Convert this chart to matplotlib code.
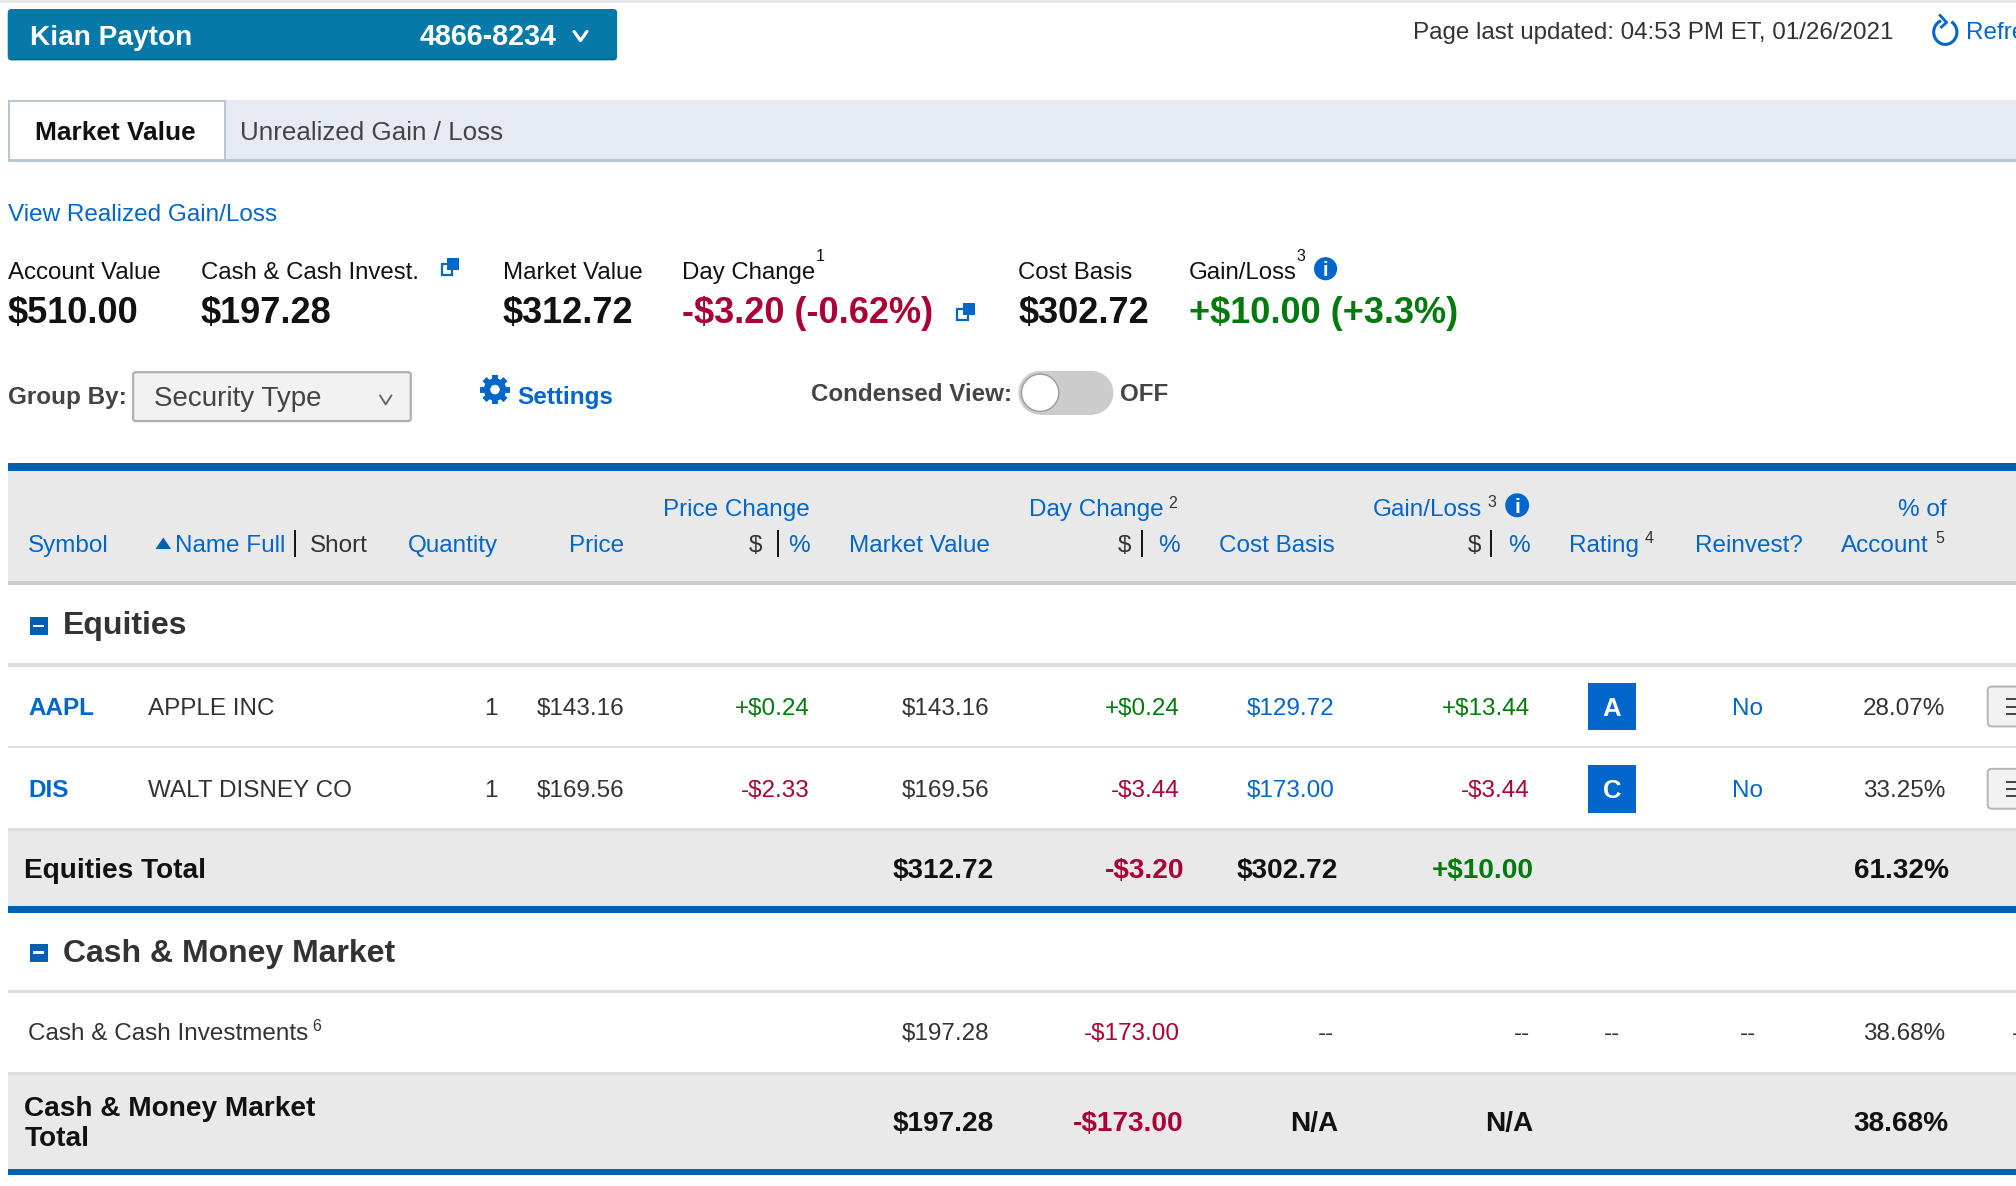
import math
import matplotlib
matplotlib.use("Agg")
import matplotlib.pyplot as plt
from matplotlib.patches import Rectangle, FancyBboxPatch, Circle, Arc, Polygon

plt.rcParams['font.family'] = ['Liberation Sans', 'DejaVu Sans']

# ---------- content ----------
account_name = "Kian Payton"
account_number = "4866-8234"
page_updated = "Page last updated: 04:53 PM ET, 01/26/2021"
tabs = ["Market Value", "Unrealized Gain / Loss"]
summary_labels = ["Account Value", "Cash & Cash Invest.", "Market Value", "Day Change", "Cost Basis", "Gain/Loss"]
summary_values = ["$510.00", "$197.28", "$312.72", "-$3.20 (-0.62%)", "$302.72", "+$10.00 (+3.3%)"]
symbols = ["AAPL", "DIS"]
names = ["APPLE INC", "WALT DISNEY CO"]
quantities = ["1", "1"]
prices = ["$143.16", "$169.56"]
price_changes = ["+$0.24", "-$2.33"]
market_values = ["$143.16", "$169.56"]
day_changes = ["+$0.24", "-$3.44"]
cost_bases = ["$129.72", "$173.00"]
gain_losses = ["+$13.44", "-$3.44"]
ratings = ["A", "C"]
reinvest = ["No", "No"]
pct_account = ["28.07%", "33.25%"]
equities_total = ["$312.72", "-$3.20", "$302.72", "+$10.00", "61.32%"]
cash_row = ["$197.28", "-$173.00", "--", "--", "--", "--", "38.68%"]
cash_total = ["$197.28", "-$173.00", "N/A", "N/A", "38.68%"]

# ---------- colours ----------
BLUE = "#0066CC"
BAR = "#0060B0"
GREEN = "#007A0C"
RED = "#AA0033"
DARK = "#333333"
BLACK = "#111111"
HEAD = "#E9E9E9"
LINE = "#DDDDDD"

W, H = 1568, 922.44
fig = plt.figure(figsize=(20.16, 11.86), dpi=100, facecolor="white")
ax = fig.add_axes([0, 0, 1, 1])
ax.set_xlim(0, W)
ax.set_ylim(H, 0)
ax.axis("off")

def fs(em):
    return em * 0.9257

def T(x, y, s, em=18.85, c=DARK, b=False, ha="left", **kw):
    if ha == "right":
        x = x + 0.8
    return ax.text(x, y, s, fontsize=fs(em), color=c, ha=ha, va="baseline",
                   fontweight="bold" if b else "normal", **kw)

def R(x0, y0, x1, y1, c, z=1, **kw):
    ax.add_patch(Rectangle((x0, y0), x1 - x0, y1 - y0, facecolor=c, edgecolor="none", zorder=z, **kw))

def chevron(x, y, w, h, c, lw):
    ax.plot([x - w, x, x + w], [y - h, y + h, y - h], color=c, lw=lw, solid_capstyle="round", zorder=5)

def info(x, y, r):
    ax.add_patch(Circle((x, y), r, facecolor=BLUE, edgecolor="none", zorder=4))
    ax.text(x, y + r * 0.62, "i", fontsize=fs(r * 1.75), color="white", ha="center", va="baseline",
            fontweight="bold", zorder=5)

def copy_icon(x, y):
    ax.add_patch(Rectangle((x - 6.5, y - 2.5), 8, 8, facecolor="white", edgecolor=BLUE, lw=1.6, zorder=3))
    R(x - 2, y - 7, x + 7, y + 2, BLUE, 4)

def minus_box(x0, y0):
    R(x0, y0, x0 + 14, y0 + 14, BAR, 3)
    R(x0 + 3, y0 + 6, x0 + 11, y0 + 8, "white", 4)

def VL(x, y0, y1, c="#111111", lw=1.4):
    ax.plot([x, x], [y0, y1], color=c, lw=lw, zorder=4, solid_capstyle="butt")

# ---------- top strip ----------
R(0, 0, W, 2, "#E6E6E6")
ax.add_patch(FancyBboxPatch((9, 10), 468, 34, boxstyle="round,pad=3,rounding_size=3",
                            facecolor="#0679A9", edgecolor="none", zorder=1))
R(8, 45, 478, 46.3, "#056A93", 2)
T(23, 35, account_name, 21.8, "white", True)
T(326, 35, account_number, 22.4, "white", True)
chevron(451.5, 28, 5, 3.5, "white", 2.3)
T(1099, 30, page_updated, 18.8)
ax.add_patch(Arc((1513, 25), 18, 19, angle=0, theta1=-60, theta2=250, color=BLUE, lw=2.2, zorder=4))
ax.plot([1509, 1514, 1510], [12, 17.5, 21], color=BLUE, lw=2, zorder=4)
T(1529, 30, "Refresh", 18.85, BLUE)

# ---------- tabs ----------
R(6, 78, W, 124, "#E6EAF2")
R(6, 124, W, 126, "#B4C8D8", 2)
ax.add_patch(Rectangle((7, 78.5), 168, 46, facecolor="white", edgecolor="#B4C8D8", lw=1.4, zorder=3))
T(27, 109, tabs[0], 20.4, BLACK, True, zorder=5)
T(187, 109, tabs[1], 20.2, "#444444")

T(6, 172, "View Realized Gain/Loss", 18.85, BLUE)

# ---------- summary ----------
sum_x = [6, 156, 391, 530.5, 792, 924.5]
val_col = [BLACK, BLACK, BLACK, RED, BLACK, GREEN]
for x, lab, val, c in zip(sum_x, summary_labels, summary_values, val_col):
    T(x, 217, lab, 18.7, BLACK)
    T(x, 251, val, 28.15, c, True)
T(634.5, 203, "1", 12.5, BLACK)
T(1008, 203, "3", 12.5, BLACK)
copy_icon(350, 208)
copy_icon(751, 243)
info(1031, 209, 9)

# ---------- controls ----------
T(6, 314, "Group By:", 18.85, "#444444", True)
ax.add_patch(FancyBboxPatch((104, 290), 215, 37, boxstyle="round,pad=0.5,rounding_size=2",
                            facecolor="#F2F2F2", edgecolor="#AFAFAF", lw=1.6, zorder=1))
T(120, 316, "Security Type", 21.6, "#444444")
chevron(300, 311, 4.5, 3.5, "#666666", 1.4)
# gear
gx, gy = 385, 303
for k in range(8):
    a = k * math.pi / 4
    ax.plot([gx + 6 * math.cos(a), gx + 11.5 * math.cos(a)], [gy + 6 * math.sin(a), gy + 11.5 * math.sin(a)],
            color=BLUE, lw=4.2, solid_capstyle="butt", zorder=3)
ax.add_patch(Circle((gx, gy), 8.7, facecolor=BLUE, edgecolor="none", zorder=4))
ax.add_patch(Circle((gx, gy), 3.7, facecolor="white", edgecolor="none", zorder=5))
T(402, 314, "Settings", 18.85, BLUE, True)
T(631, 312, "Condensed View:", 18.75, "#444444", True)
ax.add_patch(Rectangle((809, 288.5), 40, 34, facecolor="#CCCCCC", edgecolor="none", zorder=1))
ax.add_patch(Circle((809, 305.5), 17, facecolor="#CCCCCC", edgecolor="none", zorder=1))
ax.add_patch(Circle((849, 305.5), 17, facecolor="#CCCCCC", edgecolor="none", zorder=1))
ax.add_patch(Circle((809, 305.5), 14.5, facecolor="white", edgecolor="#9A9A9A", lw=1, zorder=2))
T(871, 312, "OFF", 18.75, "#444444", True)

# ---------- table frame ----------
R(6, 360, W, 366, BAR, 2)
R(6, 366, W, 452, HEAD)
R(6, 452, W, 455, "#CCCCCC")
R(6, 516, W, 519, LINE)
R(6, 580.5, W, 582, LINE)
R(6, 644, W, 646, LINE)
R(6, 646, W, 705, HEAD)
R(6, 705, W, 710, BAR, 2)
R(6, 770, W, 772, LINE)
R(6, 834, W, 836, LINE)
R(6, 836, W, 909, HEAD)
R(6, 909, W, 914, BAR, 2)

# ---------- header ----------
y1, y2 = 401, 429
T(22, y2, "Symbol", c=BLUE)
ax.add_patch(Polygon([[121, 427], [133, 427], [127, 418]], closed=True, facecolor=BAR, edgecolor="none", zorder=3))
T(136, y2, "Name Full", c=BLUE)
VL(229.5, 412, 433)
T(241, y2, "Short")
T(317, y2, "Quantity", c=BLUE)
T(485, y2, "Price", c=BLUE, ha="right")
T(629, y1, "Price Change", c=BLUE, ha="right")
T(592, y2, "$", ha="right")
VL(605.5, 412, 433)
T(629, y2, "%", c=BLUE, ha="right")
T(769, y2, "Market Value", c=BLUE, ha="right")
T(904, y1, "Day Change", c=BLUE, ha="right")
T(909, 395, "2", 12.5)
T(879, y2, "$", ha="right")
VL(888, 412, 433)
T(917, y2, "%", c=BLUE, ha="right")
T(1037, y2, "Cost Basis", c=BLUE, ha="right")
T(1152, y1, "Gain/Loss", c=BLUE, ha="right")
T(1157, 394, "3", 12.5)
info(1180, 393, 9.3)
T(1151, y2, "$", ha="right")
VL(1160, 412, 433)
T(1189, y2, "%", c=BLUE, ha="right")
T(1220, y2, "Rating", c=BLUE)
T(1279, 422, "4", 12.5)
T(1318, y2, "Reinvest?", c=BLUE)
T(1513, y1, "% of", c=BLUE, ha="right")
T(1432, y2, "Account", c=BLUE)
T(1505, 422, "5", 12.5)

# ---------- equities ----------
minus_box(23, 480)
T(49, 493, "Equities", 24.9, DARK, True)

def sign_col(s):
    return GREEN if s.startswith("+") else RED

for i, base in enumerate([556, 620]):
    T(21.7, base, symbols[i], c=BLUE, b=True)
    T(115, base, names[i])
    T(386, base, quantities[i], ha="right")
    T(485, base, prices[i], ha="right")
    T(629, base, price_changes[i], c=sign_col(price_changes[i]), ha="right")
    T(769, base, market_values[i], ha="right")
    T(917, base, day_changes[i], c=sign_col(day_changes[i]), ha="right")
    T(1037, base, cost_bases[i], c=BLUE, ha="right")
    T(1189, base, gain_losses[i], c=sign_col(gain_losses[i]), ha="right")
    top = base - 25
    R(1235, top, 1272.5, top + 37, BLUE, 3)
    ax.text(1253.7, base + 1, ratings[i], fontsize=fs(20), color="white", ha="center", va="baseline",
            fontweight="bold", zorder=4)
    T(1359.5, base, reinvest[i], c=BLUE, ha="center")
    T(1512, base, pct_account[i], ha="right")
    # action button, cut by the page edge
    ax.add_patch(FancyBboxPatch((1546, top + 3), 40, 31, boxstyle="round,pad=0,rounding_size=3",
                                facecolor="#F2F2F2", edgecolor="#B5B5B5", lw=1.4, zorder=3))
    for dy in (13, 18.5, 24):
        ax.plot([1561, W], [top + dy, top + dy], color="#444444", lw=1.4, zorder=4)

tot_x = [772, 920, 1040, 1192, 1515]
T(19, 683, "Equities Total", 21.8, BLACK, True)
for x, s, c in zip(tot_x, equities_total, [BLACK, RED, BLACK, GREEN, BLACK]):
    T(x, 683, s, 21.8, c, True, ha="right")

# ---------- cash ----------
minus_box(23, 734)
T(49, 748, "Cash & Money Market", 24.9, DARK, True)
base = 809
T(22, base, "Cash & Cash Investments")
T(243, 802, "6", 12.5)
T(769, base, cash_row[0], ha="right")
T(917, base, cash_row[1], c=RED, ha="right")
T(1037, base, cash_row[2], ha="right")
T(1189, base, cash_row[3], ha="right")
T(1253.5, base, cash_row[4], ha="center")
T(1359.5, base, cash_row[5], ha="center")
T(1512, base, cash_row[6], ha="right")
T(1565, base, "-")

T(19, 868, "Cash & Money Market", 21.8, BLACK, True)
T(19, 891, "Total", 21.8, BLACK, True)
for x, s, c in zip(tot_x, cash_total, [BLACK, RED, BLACK, BLACK, BLACK]):
    T(x, 880, s, 21.8, c, True, ha="right")

fig.savefig("out.png", dpi=100, facecolor="white")
